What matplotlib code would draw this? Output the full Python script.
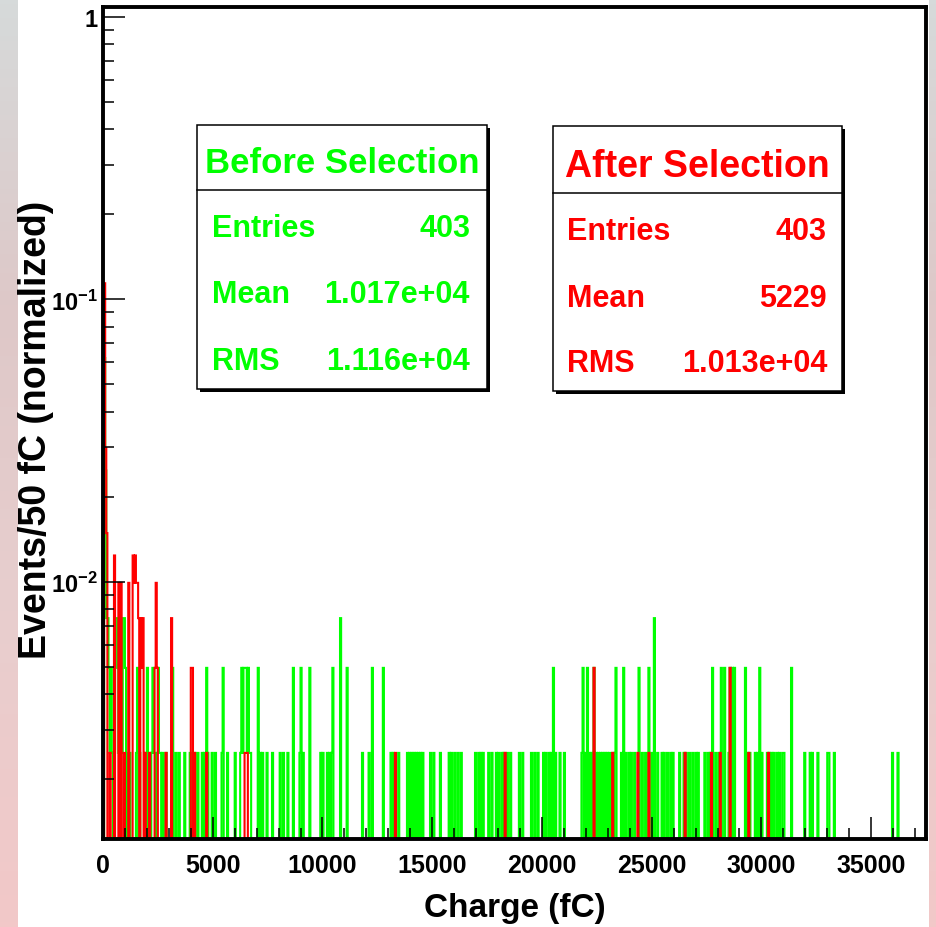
import numpy as np
import matplotlib
matplotlib.use("Agg")
import matplotlib.pyplot as plt
from matplotlib.patches import Rectangle
from matplotlib.ticker import FixedLocator, FixedFormatter, MultipleLocator, NullFormatter

W, H = 936, 928
N_ENTRIES = 403
BIN_W = 50
X_MAX = 37500
Y_MIN, Y_MAX = 0.00123, 1.085

# Before selection (green): low-charge bins with large counts
green_peak_q = [50, 100, 150, 200, 250, 350, 550, 600, 650, 900, 950, 1000]
green_peak_n = [25, 10, 3, 3, 2, 2, 3, 3, 2, 3, 3, 2]
# green bins with 3, 2 and 1 entries (bin low edge, fC)
green_q3 = [10800, 25100]
green_q2 = [1550, 2000, 2250, 2500, 3150, 4700, 5450, 6300, 6400, 6450, 6500, 6600,
            7050, 8650, 9000, 9400, 10450, 11100, 12250, 12750, 20500, 21850, 22050,
            22350, 23350, 23700, 24400, 24850, 27750, 28150, 28300, 28550, 28650,
            28750, 29250, 29900, 31350]
green_q1 = [300, 400, 500, 700, 800, 850, 1100, 1200, 1500, 1650, 1950, 2100,
            2200, 2300, 2350, 2450, 2550, 2600, 2700, 2850,
            3100, 3300, 3450, 3700, 3950, 4150, 4300, 4500, 4600, 4750, 4950, 5100,
            5400, 5650, 6000, 6250, 6350, 6550, 6650, 6700, 7150, 7250, 7450, 7700,
            8050, 8200, 8400, 8950, 9100, 9900, 10000, 10200, 10300, 10400, 11800,
            12100, 13100, 13200, 13450, 13850, 13950, 14050, 14150, 14250, 14350,
            14450, 14550, 14900, 15050, 15350, 15750, 15850, 16000, 16150, 16300,
            16950, 17100, 17200, 17300, 17550, 17700, 17900, 18000, 18150, 18250,
            18400, 18550, 18950, 19100, 19500, 19650, 19800, 20050, 20150, 20300,
            20400, 20600, 20800, 21000, 21800, 21950, 22150, 22250, 22450, 22550,
            22650, 22750, 22850, 22950, 23050, 23200, 23300, 23600, 23800, 23950,
            24050, 24200, 24550, 24700, 25000, 25250, 25450, 25550, 25700, 25850,
            25950, 26250, 26450, 26550, 26700, 26850, 27000, 27100, 27400, 27550,
            27650, 27900, 28050, 28500, 29350, 29450, 29700, 29800, 30000, 30250,
            30350, 30450, 30550, 30700, 30800, 30950, 31000, 31950, 32200, 32300,
            32550, 33000, 33050, 33300, 35950, 36200]

# After selection (red)
red_peak_q = [50, 100, 150, 500, 700, 800, 1150, 1350, 1400, 1450, 1500, 1550, 1600,
              1700, 1750, 1800, 2400, 3100]
red_peak_n = [46, 12, 6, 5, 4, 4, 4, 5, 4, 5, 4, 4, 3, 3, 2, 3, 4, 3]
red_q2 = [2350, 2450, 4000, 4050, 22350, 28550]
red_q1 = [300, 950, 1900, 2100, 2850, 4150, 4700, 6450, 6500, 6550, 13300, 18300,
          23200, 24350, 24850, 26500, 27700, 28100, 29400, 30300]

stats_before = [("Entries", "403"), ("Mean", "1.017e+04"), ("RMS", "1.116e+04")]
stats_after = [("Entries", "403"), ("Mean", "5229"), ("RMS", "1.013e+04")]

GREEN = "#00ff00"
RED = "#ff0000"
FONT = "Liberation Sans"

plt.rcParams["font.family"] = [FONT, "DejaVu Sans"]
plt.rcParams["font.weight"] = "bold"
plt.rcParams["mathtext.fontset"] = "custom"
plt.rcParams["mathtext.rm"] = FONT + ":bold"
plt.rcParams["mathtext.bf"] = FONT + ":bold"


def make_counts(pairs):
    counts = np.zeros(X_MAX // BIN_W)
    for qs, ns in pairs:
        for q, n in zip(qs, ns):
            counts[int(q // BIN_W)] = n
    return counts


def fx(x):
    return x / W


def fy(y):
    return 1 - y / H


green = make_counts([(green_q1, [1] * len(green_q1)), (green_q2, [2] * len(green_q2)),
                     (green_q3, [3] * len(green_q3)), (green_peak_q, green_peak_n)])
red = make_counts([(red_q1, [1] * len(red_q1)), (red_q2, [2] * len(red_q2)),
                   (red_peak_q, red_peak_n)])
edges = np.arange(0, X_MAX + BIN_W, BIN_W)

fig = plt.figure(figsize=(W / 100, H / 100), dpi=100)
fig.patch.set_facecolor("white")

# slide background strips at the edges
grad = np.array([[214, 218, 218], [222, 200, 200], [232, 206, 206], [242, 200, 200]]) / 255
ys = np.linspace(0, 1, 200)
band = np.stack([np.interp(ys, [0, 0.33, 0.66, 1], grad[:, c]) for c in range(3)], axis=1)
for x0, w in [(0, 18), (929, 7)]:
    bax = fig.add_axes([fx(x0), 0, w / W, 1])
    bax.imshow(band[:, None, :], aspect="auto", extent=[0, 1, 1, 0])
    bax.set_axis_off()

ax = fig.add_axes([fx(103), fy(840), (926 - 103) / W, (840 - 8) / H])
ax.stairs(np.where(green > 0, green / N_ENTRIES, 1e-9), edges, color=GREEN, lw=1.5, baseline=None)
ax.stairs(np.where(red > 0, red / N_ENTRIES, 1e-9), edges, color=RED, lw=1.5, baseline=None)

ax.set_yscale("log")
ax.set_xlim(0, X_MAX)
ax.set_ylim(Y_MIN, Y_MAX)

ax.yaxis.set_major_locator(FixedLocator([0.01, 0.1, 1]))
ax.yaxis.set_major_formatter(FixedFormatter([r"$\mathbf{10^{-2}}$", r"$\mathbf{10^{-1}}$", "1"]))
minor = [k * 10.0 ** e for e in (-3, -2, -1) for k in range(2, 10)]
ax.yaxis.set_minor_locator(FixedLocator([m for m in minor if m > Y_MIN]))
ax.yaxis.set_minor_formatter(NullFormatter())
ax.xaxis.set_major_locator(MultipleLocator(5000))
ax.xaxis.set_minor_locator(MultipleLocator(1000))

ax.tick_params(which="both", direction="in", top=False, right=False, width=1.1, color="black")
ax.tick_params(which="major", length=15.8)
ax.tick_params(which="minor", length=7.6)
ax.tick_params(axis="x", which="major", labelsize=18, pad=10)
ax.tick_params(axis="y", which="major", labelsize=17, pad=4)
for s in ax.spines.values():
    s.set_linewidth(2.8)
    s.set_zorder(5)

fig.text(fx(515), fy(917), "Charge (fC)", fontsize=24, ha="center", va="baseline")
fig.text(fx(36), fy(430), "Events/50 fC (normalized)", fontsize=27, rotation=90,
         ha="center", va="center")


def stat_box(x0, x1, y0, ysep, y1, title, title_size, title_base, rows, row_bases,
             lab_x, val_x, color):
    fig.patches.append(Rectangle((fx(x0 + 3), fy(y1 + 3)), (x1 - x0) / W, (y1 - y0) / H,
                                 transform=fig.transFigure, facecolor="black",
                                 edgecolor="none", zorder=10))
    fig.patches.append(Rectangle((fx(x0), fy(y1)), (x1 - x0) / W, (y1 - y0) / H,
                                 transform=fig.transFigure, facecolor="white",
                                 edgecolor="black", lw=1.1, zorder=11))
    fig.lines.append(plt.Line2D([fx(x0), fx(x1)], [fy(ysep), fy(ysep)],
                                transform=fig.transFigure, color="black", lw=1.1, zorder=12))
    fig.text(fx((x0 + x1) / 2), fy(title_base), title, color=color, fontsize=title_size,
             ha="center", va="baseline", zorder=13)
    for (lab, val), yb in zip(rows, row_bases):
        fig.text(fx(lab_x), fy(yb), lab, color=color, fontsize=22, ha="left",
                 va="baseline", zorder=13)
        fig.text(fx(val_x), fy(yb), val, color=color, fontsize=22, ha="right",
                 va="baseline", zorder=13)


stat_box(197, 487, 126, 191, 390, "Before Selection", 25, 173, stats_before,
         [237, 303, 370], 212, 470, GREEN)
stat_box(553, 842, 127, 194, 392, "After Selection", 27, 177, stats_after,
         [240, 307, 372], 567, 827, RED)

fig.savefig("out.png", dpi=100)
